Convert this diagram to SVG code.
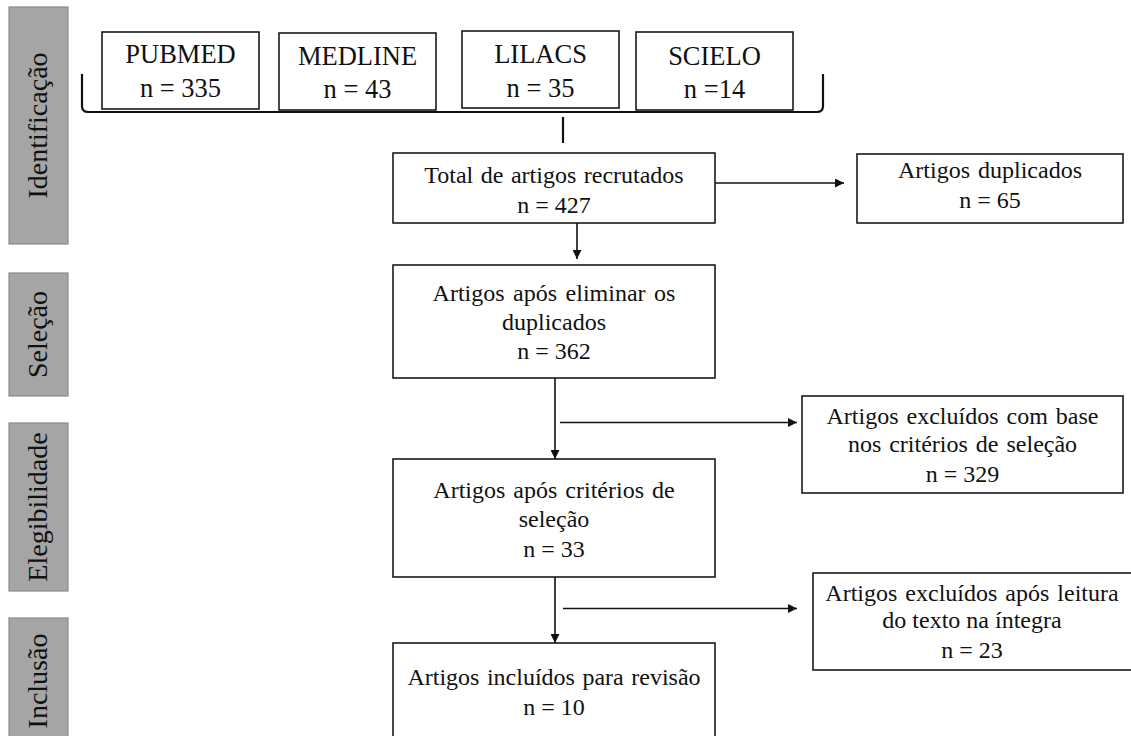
<svg xmlns="http://www.w3.org/2000/svg" width="1131" height="736" viewBox="0 0 1131 736">
  <style>
    .stage { fill: #a5a5a5; stroke: #8a8a8a; stroke-width: 1.2; }
    .stage-t { font-family: "Liberation Serif", "Times New Roman", serif; font-size: 28px; fill: #111; text-anchor: middle; }
    .box { fill: #fff; stroke: #1a1a1a; stroke-width: 1.6; }
    .src { font-family: "Liberation Serif", "Times New Roman", serif; font-size: 26.5px; fill: #111; text-anchor: middle; }
    .t { font-family: "Liberation Serif", "Times New Roman", serif; font-size: 24px; fill: #111; text-anchor: middle; }
    .ln { fill: none; stroke: #111; stroke-width: 1.6; }
    .ln2 { fill: none; stroke: #111; stroke-width: 2.2; }
  </style>
  <defs>
    <marker id="ah" markerUnits="userSpaceOnUse" markerWidth="10" markerHeight="9" refX="9" refY="4.5" orient="auto">
      <path d="M0,0 L9,4.5 L0,9 z" fill="#111"/>
    </marker>
  </defs>
  <rect width="1131" height="736" fill="#fff"/>

  <g id="stage-identificacao">
    <rect class="stage" x="9" y="7" width="59" height="237"/>
    <text class="stage-t" transform="translate(47,125.5) rotate(-90)">Identificação</text>
  </g>
  <g id="stage-selecao">
    <rect class="stage" x="9" y="273" width="59" height="123"/>
    <text class="stage-t" transform="translate(47,334.5) rotate(-90)">Seleção</text>
  </g>
  <g id="stage-elegibilidade">
    <rect class="stage" x="9" y="423" width="59" height="168"/>
    <text class="stage-t" transform="translate(47,507) rotate(-90)">Elegibilidade</text>
  </g>
  <g id="stage-inclusao">
    <rect class="stage" x="9" y="618" width="59" height="128"/>
    <text class="stage-t" transform="translate(47,681) rotate(-90)">Inclusão</text>
  </g>

  <g id="pubmed">
    <rect class="box" x="102" y="32" width="157" height="77"/>
    <text class="src" x="180.5" y="63">PUBMED</text>
    <text class="src" x="180.5" y="97">n = 335</text>
  </g>
  <g id="medline">
    <rect class="box" x="279" y="33" width="157" height="77"/>
    <text class="src" x="357.5" y="65">MEDLINE</text>
    <text class="src" x="357.5" y="98">n = 43</text>
  </g>
  <g id="lilacs">
    <rect class="box" x="462" y="31" width="157" height="77"/>
    <text class="src" x="540.5" y="63">LILACS</text>
    <text class="src" x="540.5" y="97">n = 35</text>
  </g>
  <g id="scielo">
    <rect class="box" x="636" y="32" width="157" height="78"/>
    <text class="src" x="714.5" y="65">SCIELO</text>
    <text class="src" x="714.5" y="98">n =14</text>
  </g>

  <g id="total">
    <rect class="box" x="393" y="153" width="322" height="70"/>
    <text class="t" x="554" y="183" word-spacing="1.5">Total de artigos recrutados</text>
    <text class="t" x="554" y="213">n = 427</text>
  </g>
  <g id="duplicados">
    <rect class="box" x="857" y="154" width="266" height="69"/>
    <text class="t" x="990" y="178" word-spacing="2">Artigos duplicados</text>
    <text class="t" x="990" y="208">n = 65</text>
  </g>
  <g id="selecao">
    <rect class="box" x="393" y="265" width="322" height="113"/>
    <text class="t" x="554" y="301" word-spacing="2.5">Artigos após eliminar os</text>
    <text class="t" x="554" y="330">duplicados</text>
    <text class="t" x="554" y="359">n = 362</text>
  </g>
  <g id="excluidos-selecao">
    <rect class="box" x="802" y="396" width="321" height="97"/>
    <text class="t" x="962.5" y="424" word-spacing="2">Artigos excluídos com base</text>
    <text class="t" x="962.5" y="452" word-spacing="2">nos critérios de seleção</text>
    <text class="t" x="962.5" y="482">n = 329</text>
  </g>
  <g id="elegibilidade">
    <rect class="box" x="393" y="459" width="322" height="118"/>
    <text class="t" x="554" y="498" word-spacing="2">Artigos após critérios de</text>
    <text class="t" x="554" y="527">seleção</text>
    <text class="t" x="554" y="557">n = 33</text>
  </g>
  <g id="excluidos-leitura">
    <rect class="box" x="813" y="573" width="320" height="97"/>
    <text class="t" x="972" y="601" word-spacing="2">Artigos excluídos após leitura</text>
    <text class="t" x="972" y="628">do texto na íntegra</text>
    <text class="t" x="972" y="658">n = 23</text>
  </g>
  <g id="inclusao">
    <rect class="box" x="393" y="643" width="322" height="110"/>
    <text class="t" x="554" y="685" word-spacing="1.5">Artigos incluídos para revisão</text>
    <text class="t" x="554" y="715">n = 10</text>
  </g>

  <g id="connectors">
    <path class="ln2" d="M82,74 L82,106 Q82,112 88,112 L817,112 Q823,112 823,106 L823,74"/>
    <path class="ln2" d="M563,117 L563,143"/>
    <path class="ln" d="M715,183 L844,183" marker-end="url(#ah)"/>
    <path class="ln" d="M577,223 L577,259" marker-end="url(#ah)"/>
    <path class="ln" d="M555,378 L555,459" marker-end="url(#ah)"/>
    <path class="ln" d="M560,422.5 L797,422.5" marker-end="url(#ah)"/>
    <path class="ln" d="M555,577 L555,643" marker-end="url(#ah)"/>
    <path class="ln" d="M563,608.5 L797,608.5" marker-end="url(#ah)"/>
  </g>
</svg>
